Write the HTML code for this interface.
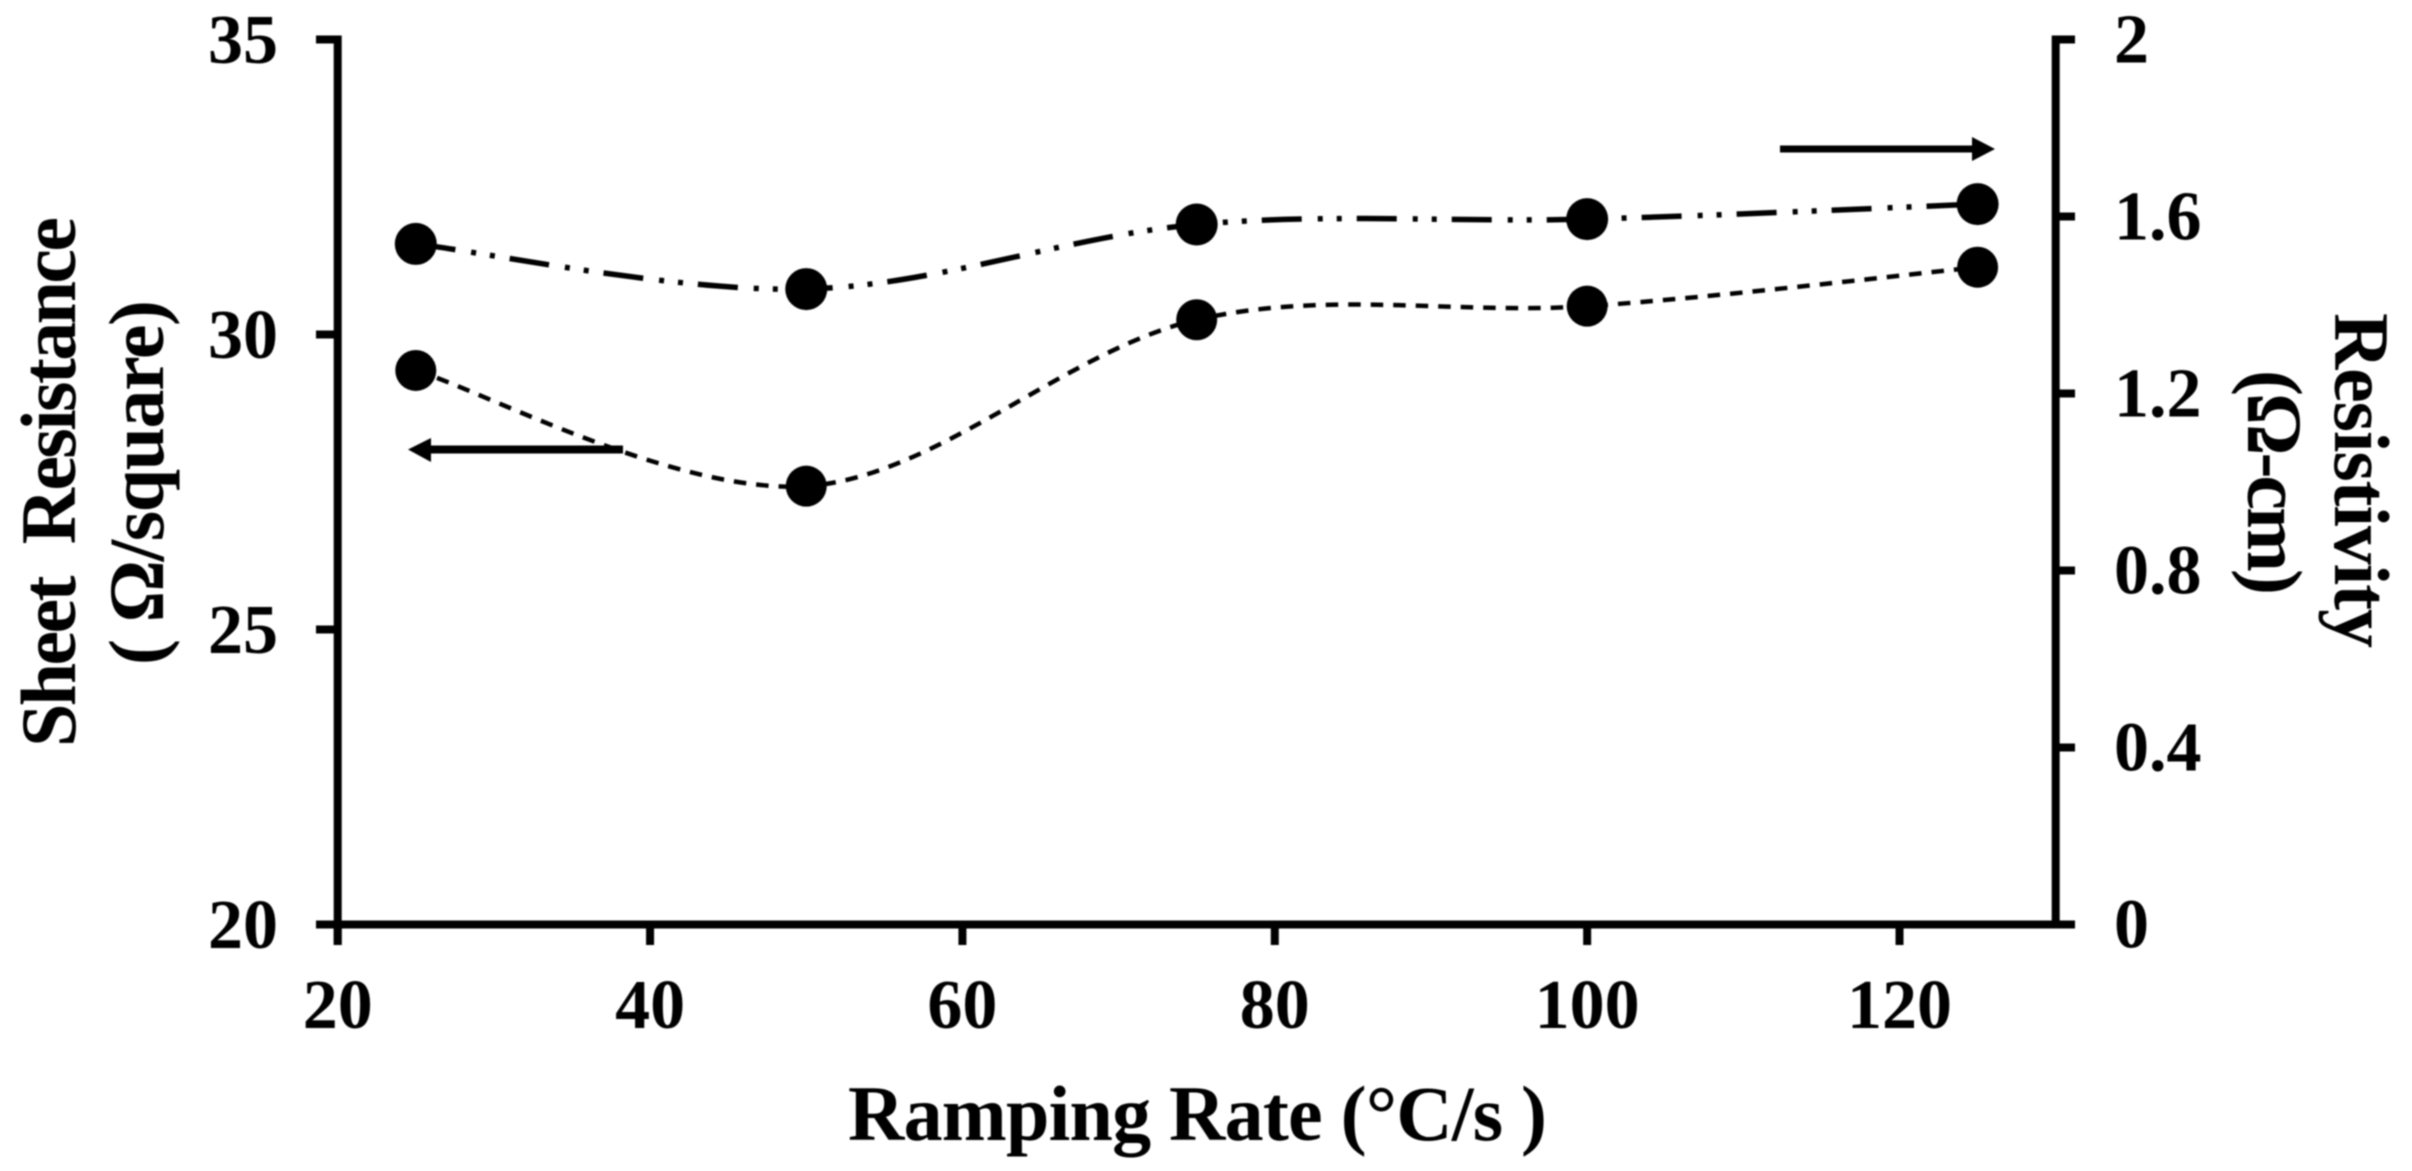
<!DOCTYPE html>
<html>
<head>
<meta charset="utf-8">
<title>Sheet Resistance and Resistivity vs Ramping Rate</title>
<style>
html,body{margin:0;padding:0;background:#fff;width:2412px;height:1171px;overflow:hidden}
svg{display:block;filter:blur(0.7px)}
text{font-family:"Liberation Serif",serif;font-weight:bold;fill:#000}
</style>
</head>
<body>
<svg id="chart" width="2412" height="1171" viewBox="0 0 2412 1171" xmlns="http://www.w3.org/2000/svg">
<rect width="2412" height="1171" fill="#fff"/>
<g id="axes"></g>
<g id="series"></g>
<g>
<line x1="623" y1="449.5" x2="428" y2="449.5" stroke="#000" stroke-width="8"/>
<polygon points="408,449.5 431,438 431,462" fill="#000"/>
</g>
<g>
<line x1="1780" y1="149" x2="1975" y2="149" stroke="#000" stroke-width="7"/>
<polygon points="1995,149 1972,137 1972,161" fill="#000"/>
</g>
<text x="848" y="1140" font-size="78" textLength="699" lengthAdjust="spacing">Ramping Rate (°C/s )</text>
<text transform="translate(75,747) rotate(-90)" font-size="78" textLength="530" lengthAdjust="spacing" xml:space="preserve">Sheet  Resistance</text>
<text transform="translate(163,665) rotate(-90)" font-size="78" textLength="365" lengthAdjust="spacing" xml:space="preserve">( Ω/square)</text>
<text transform="translate(2335,313) rotate(90)" font-size="78" textLength="335" lengthAdjust="spacing">Resistivity</text>
<text transform="translate(2248,370) rotate(90)" font-size="78" textLength="225" lengthAdjust="spacing">(Ω-cm)</text>
</svg>
<script>
const categories = [25, 50, 75, 100, 125];
const sheetResistance = [29.39, 27.43, 30.25, 30.48, 31.14];
const resistivity = [1.538, 1.436, 1.582, 1.594, 1.628];
const xTickLabels = ['20', '40', '60', '80', '100', '120'];
const leftTickLabels = ['20', '25', '30', '35'];
const rightTickLabels = ['0', '0.4', '0.8', '1.2', '1.6', '2'];

const NS = 'http://www.w3.org/2000/svg';
const xMin = 20, xMax = 130, leftMin = 20, leftMax = 35, rightMin = 0, rightMax = 2;
const plotLeft = 337.7, plotRight = 2055.7, plotTop = 39.5, plotBottom = 924.5;
function xScale(v) { return plotLeft + (v - xMin) / (xMax - xMin) * (plotRight - plotLeft); }
function leftScale(v) { return plotBottom - (v - leftMin) / (leftMax - leftMin) * (plotBottom - plotTop); }
function rightScale(v) { return plotBottom - (v - rightMin) / (rightMax - rightMin) * (plotBottom - plotTop); }

function make(tag, attrs, parent) {
  const el = document.createElementNS(NS, tag);
  for (const k in attrs) el.setAttribute(k, attrs[k]);
  parent.appendChild(el);
  return el;
}
function smoothPath(pts) {
  let d = 'M' + pts[0][0] + ' ' + pts[0][1];
  for (let i = 0; i < pts.length - 1; i++) {
    const p0 = pts[Math.max(i - 1, 0)], p1 = pts[i], p2 = pts[i + 1], p3 = pts[Math.min(i + 2, pts.length - 1)];
    const c1x = p1[0] + (p2[0] - p0[0]) / 6, c1y = p1[1] + (p2[1] - p0[1]) / 6;
    const c2x = p2[0] - (p3[0] - p1[0]) / 6, c2y = p2[1] - (p3[1] - p1[1]) / 6;
    d += ' C' + c1x + ' ' + c1y + ' ' + c2x + ' ' + c2y + ' ' + p2[0] + ' ' + p2[1];
  }
  return d;
}

const axes = document.getElementById('axes');
const series = document.getElementById('series');
const axisStyle = { stroke: '#000', 'stroke-width': 8 };

const leftAxis = make('line', Object.assign({ x1: plotLeft, y1: plotTop - 4, x2: plotLeft, y2: 945 }, axisStyle), axes);


const rightAxis = make('line', Object.assign({ x1: plotRight, y1: plotTop - 4, x2: plotRight, y2: plotBottom + 4 }, axisStyle), axes);


const bottomAxis = make('line', Object.assign({ x1: 317, y1: plotBottom, x2: 2075, y2: plotBottom }, axisStyle), axes);



xTickLabels.forEach(function (label) {
  const x = xScale(parseFloat(label));
  const tick = make('line', Object.assign({ x1: x, y1: plotBottom, x2: x, y2: 945 }, axisStyle), axes);
  
  
  const t = make('text', { x: x, y: 1028, 'font-size': 70, 'text-anchor': 'middle' }, axes);
  
  
  t.textContent = label;
});
leftTickLabels.forEach(function (label) {
  const y = leftScale(parseFloat(label));
  const tick = make('line', Object.assign({ x1: 316, y1: y, x2: plotLeft, y2: y }, axisStyle), axes);
  
  
  const t = make('text', { x: 278, y: y + 23.5, 'font-size': 70, 'text-anchor': 'end' }, axes);
  
  
  t.textContent = label;
});
rightTickLabels.forEach(function (label) {
  const y = rightScale(parseFloat(label));
  const tick = make('line', Object.assign({ x1: plotRight, y1: y, x2: 2075, y2: y }, axisStyle), axes);
  
  
  const t = make('text', { x: 2114, y: y + 23, 'font-size': 70 }, axes);
  
  
  t.textContent = label;
});

const sheetPoints = categories.map(function (c, i) { return [xScale(c), leftScale(sheetResistance[i])]; });
const resistivityPoints = categories.map(function (c, i) { return [xScale(c), rightScale(resistivity[i])]; });

const sheetLine = make('path', { d: smoothPath(sheetPoints), fill: 'none', stroke: '#000', 'stroke-width': 4.5, 'stroke-dasharray': '12.5 10' }, series);


const resistivityLine = make('path', { d: smoothPath(resistivityPoints), fill: 'none', stroke: '#000', 'stroke-width': 5.5, 'stroke-dasharray': '40 16 5 14 5 15' }, series);



sheetPoints.forEach(function (p) {
  const m = make('circle', { cx: p[0], cy: p[1], r: 20.5, fill: '#000' }, series);
  
  
});
resistivityPoints.forEach(function (p) {
  const m = make('circle', { cx: p[0], cy: p[1], r: 21, fill: '#000' }, series);
  
  
});
</script>
</body>
</html>
